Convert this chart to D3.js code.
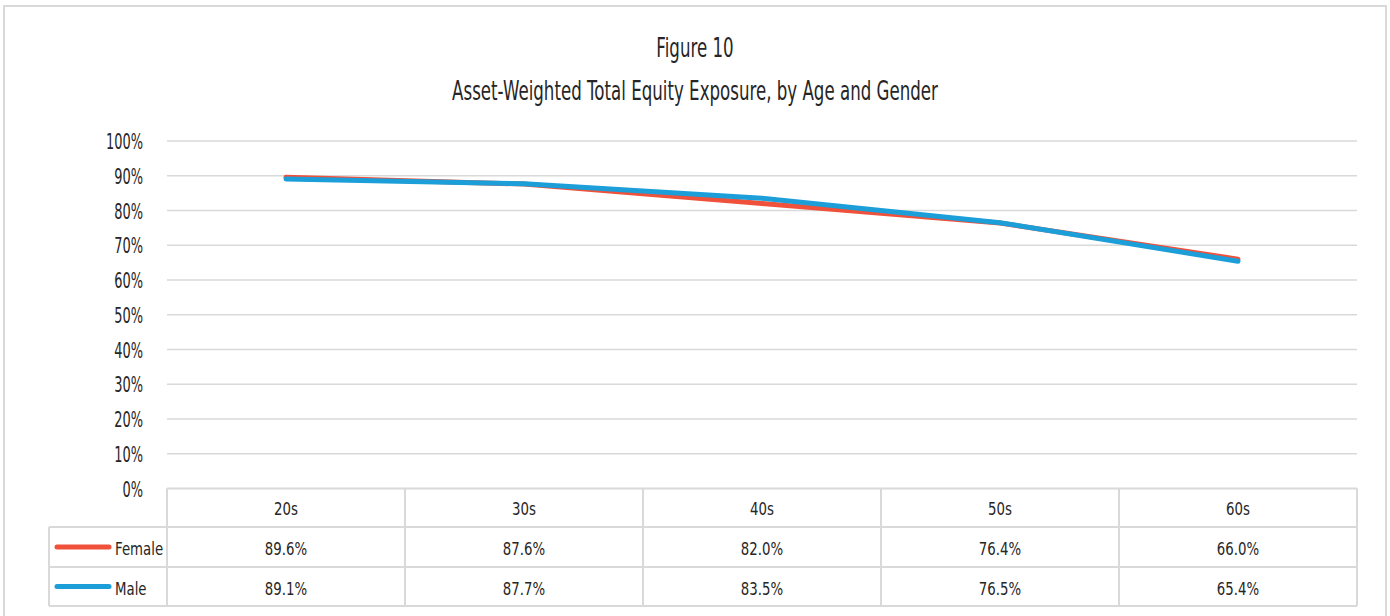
<!DOCTYPE html>
<html>
<head>
<meta charset="utf-8">
<script src="https://cdn.jsdelivr.net/npm/d3@7"></script>
<style>
  html, body { margin: 0; padding: 0; background: #fff; }
  svg { display: block; }
  text { font-family: "DejaVu Sans", sans-serif; fill: #262626; }
</style>
</head>
<body>
<svg id="chart" width="1390" height="616"></svg>
<script>
const categories = ["20s", "30s", "40s", "50s", "60s"];
const seriesNames = ["Female", "Male"];
const femaleValues = [0.896, 0.876, 0.820, 0.764, 0.660];
const maleValues = [0.891, 0.877, 0.835, 0.765, 0.654];
const yTicks = [0, 0.1, 0.2, 0.3, 0.4, 0.5, 0.6, 0.7, 0.8, 0.9, 1.0];
const colors = ["#F0513A", "#1C9ED9"];
const titleLines = ["Figure 10", "Asset-Weighted Total Equity Exposure, by Age and Gender"];

const series = [
  { name: seriesNames[0], values: femaleValues, color: colors[0] },
  { name: seriesNames[1], values: maleValues, color: colors[1] }
];

const svg = d3.select("#chart");
const grid = "#d9d9d9";

// horizontal condensing factor, calibrated so the wide fallback font
// gets the narrow proportions of the original condensed typeface
function condenseFactor(sample, fontSize, targetEm) {
  const t = svg.append("text").attr("font-size", fontSize).text(sample);
  const w = t.node().getComputedTextLength();
  t.remove();
  return (targetEm * fontSize) / w;
}
function placeText(sel, x, y, sx) {
  sel.attr("x", 0).attr("y", 0).attr("transform", `translate(${x},${y}) scale(${sx},1)`);
  return sel;
}

// outer frame
svg.append("rect")
  .attr("x", 4).attr("y", 6).attr("width", 1382).attr("height", 640)
  .attr("fill", "none").attr("stroke", grid).attr("stroke-width", 2);

// titles
const titleFs = 27;
const sxTitle = condenseFactor(titleLines[1], titleFs, 18.0);
placeText(svg.append("text").attr("text-anchor", "middle").attr("font-size", titleFs).text(titleLines[0]), 695, 57, sxTitle);
placeText(svg.append("text").attr("text-anchor", "middle").attr("font-size", titleFs).text(titleLines[1]), 695, 100, sxTitle);

const plotLeft = 167, plotRight = 1357, plotTop = 141, plotBottom = 488.5;

const x = d3.scaleBand().domain(categories).range([plotLeft, plotRight]).padding(0);
const y = d3.scaleLinear().domain([0, 1]).range([plotBottom, plotTop]);

// gridlines
svg.append("g").selectAll("line").data(yTicks.filter(d => d > 0)).join("line")
  .attr("x1", plotLeft).attr("x2", plotRight)
  .attr("y1", d => y(d)).attr("y2", d => y(d))
  .attr("stroke", grid).attr("stroke-width", 1.5);

// y axis labels
const axisFs = 21;
const sxAxis = condenseFactor("90%", axisFs, 1.37);
const yAxis = d3.axisLeft(y).tickValues(yTicks).tickFormat(d3.format(".0%")).tickSize(0).tickPadding(0);
const yg = svg.append("g").attr("transform", `translate(143,0)`).call(yAxis);
yg.select(".domain").remove();
yg.selectAll("text")
  .attr("font-size", axisFs).attr("fill", "#262626")
  .attr("font-family", null)
  .attr("x", 0).attr("dy", null).attr("y", 7.5)
  .attr("transform", `scale(${sxAxis},1)`);

// lines
const line = d3.line()
  .x((d, i) => x(categories[i]) + x.bandwidth() / 2)
  .y(d => y(d));

svg.append("g").selectAll("path").data(series).join("path")
  .attr("d", d => line(d.values))
  .attr("fill", "none")
  .attr("stroke", d => d.color)
  .attr("stroke-width", 5)
  .attr("stroke-linecap", "round")
  .attr("stroke-linejoin", "round");

// data table
const tableFs = 18.3;
const sxTable = condenseFactor("87.6%", tableFs, 2.31);
const rowTop = [488.5, 527, 567, 606];
const legendLeft = 49;
const tg = svg.append("g");
tg.append("line").attr("x1", plotLeft).attr("x2", plotRight).attr("y1", rowTop[0]).attr("y2", rowTop[0])
  .attr("stroke", grid).attr("stroke-width", 2);
[1, 2, 3].forEach(i => {
  tg.append("line").attr("x1", legendLeft).attr("x2", plotRight).attr("y1", rowTop[i]).attr("y2", rowTop[i])
    .attr("stroke", grid).attr("stroke-width", 2);
});
tg.append("line").attr("x1", legendLeft).attr("x2", legendLeft).attr("y1", rowTop[1]).attr("y2", rowTop[3])
  .attr("stroke", grid).attr("stroke-width", 2);
const colEdges = categories.map(c => x(c)).concat([plotRight]);
tg.selectAll("line.v").data(colEdges).join("line").attr("class", "v")
  .attr("x1", d => d).attr("x2", d => d).attr("y1", rowTop[0]).attr("y2", rowTop[3])
  .attr("stroke", grid).attr("stroke-width", 2);

categories.forEach(c => {
  placeText(tg.append("text").attr("text-anchor", "middle").attr("font-size", tableFs).text(c),
    x(c) + x.bandwidth() / 2, (rowTop[0] + rowTop[1]) / 2 + 7, sxTable);
});

const fmt = d3.format(".1%");
series.forEach((s, si) => {
  const cy = (rowTop[si + 1] + rowTop[si + 2]) / 2;
  tg.append("line").attr("x1", 57).attr("x2", 109).attr("y1", cy).attr("y2", cy)
    .attr("stroke", s.color).attr("stroke-width", 5).attr("stroke-linecap", "round");
  placeText(tg.append("text").attr("font-size", tableFs).text(s.name), 115, cy + 8, sxTable);
  s.values.forEach((v, i) => {
    placeText(tg.append("text").attr("text-anchor", "middle").attr("font-size", tableFs).text(fmt(v)),
      x(categories[i]) + x.bandwidth() / 2, cy + 8, sxTable);
  });
});
</script>
</body>
</html>
